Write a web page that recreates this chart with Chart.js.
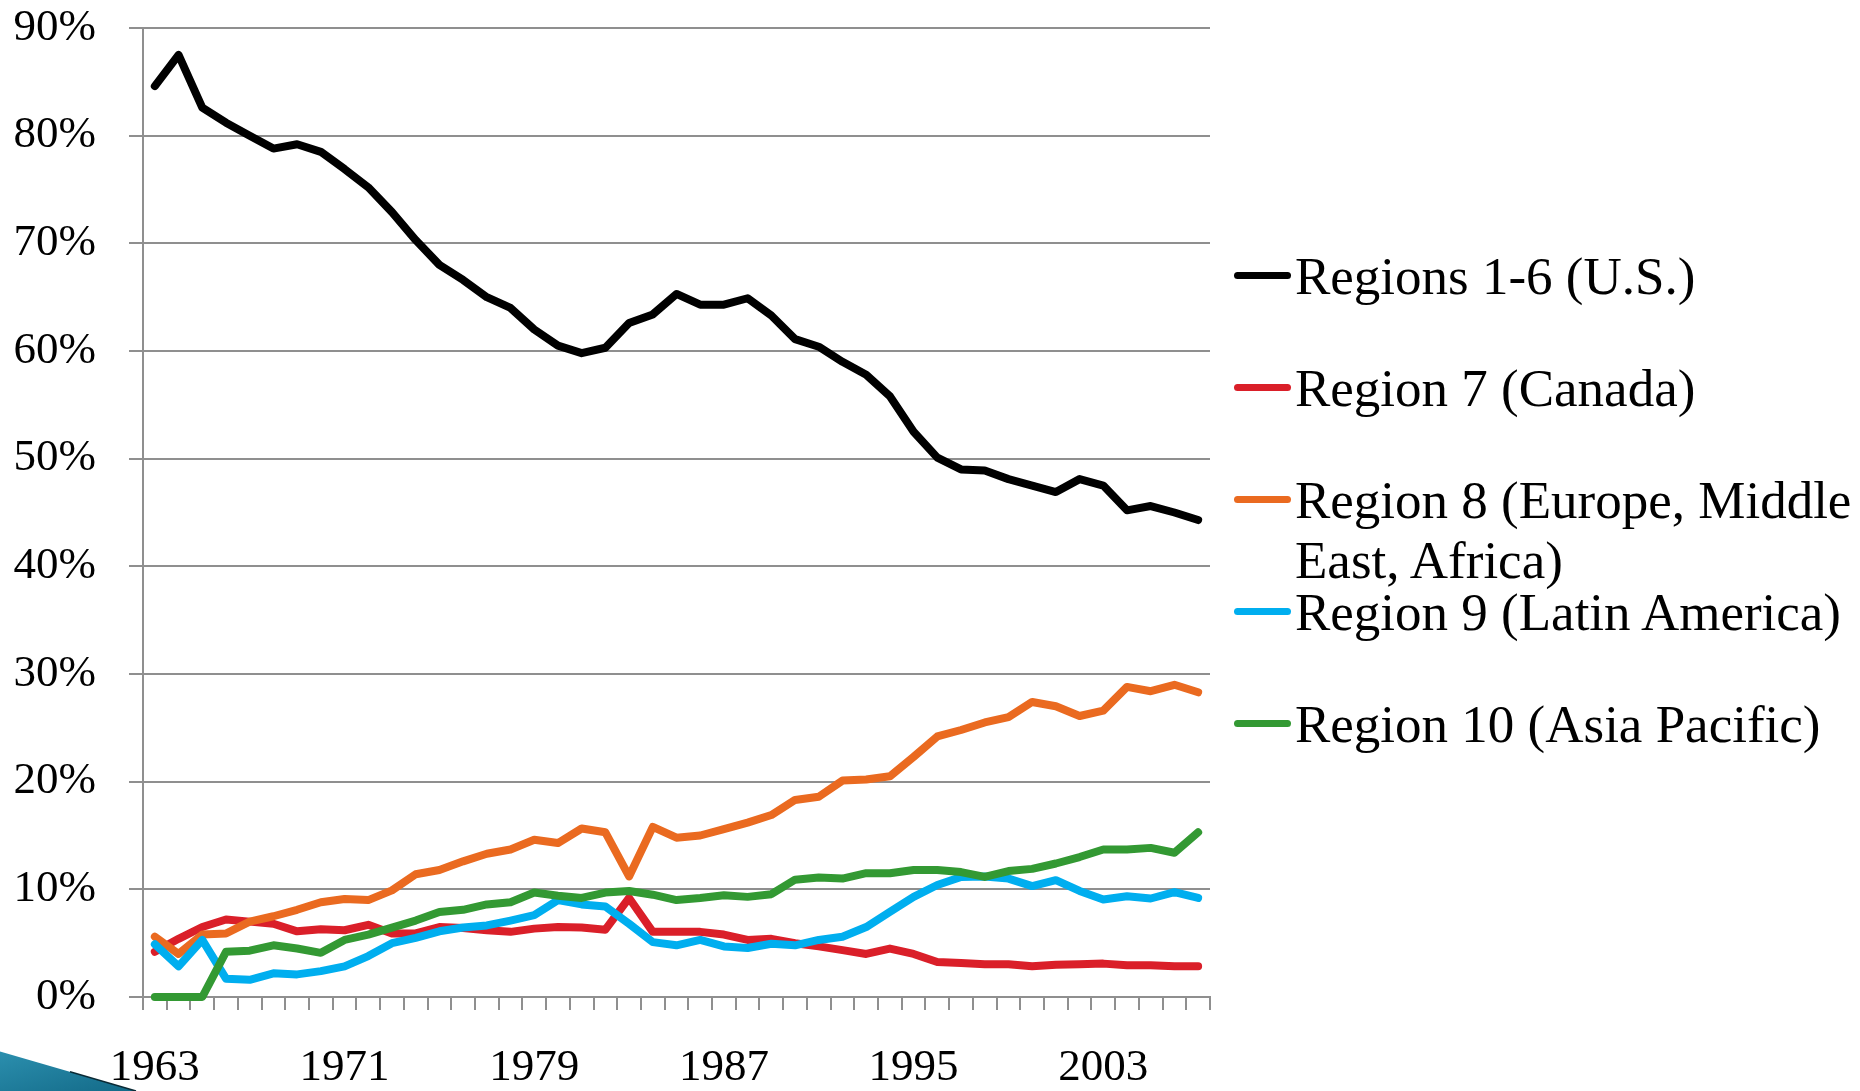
<!DOCTYPE html>
<html>
<head>
<meta charset="utf-8">
<script src="https://cdn.jsdelivr.net/npm/chart.js@4.4.0/dist/chart.umd.min.js"></script>
<style>
html,body{margin:0;padding:0;background:#fff;width:1860px;height:1091px;overflow:hidden;}
#wrap{position:relative;width:1860px;height:1091px;overflow:hidden;}
#chart{position:absolute;left:0;top:-32px;}
#legend{position:absolute;left:0;top:0;width:1860px;height:1091px;pointer-events:none;font-family:"Liberation Serif","Times New Roman",serif;font-size:53px;line-height:60px;color:#000;}
.item{position:absolute;left:1234px;width:626px;height:60px;}
.sw{position:absolute;left:0;top:26px;width:57px;height:7px;border-radius:3.5px;}
.tx{position:absolute;left:61px;top:0;width:570px;white-space:normal;}
#swoosh{position:absolute;left:0;top:1040px;}
</style>
</head>
<body>
<div id="wrap">
<canvas id="chart" width="1860" height="1123"></canvas>
<div id="legend"></div>
<svg id="swoosh" width="200" height="51" viewBox="0 0 200 51">
  <defs>
    <linearGradient id="sg" x1="0" y1="0" x2="1" y2="1">
      <stop offset="0" stop-color="#2b8fae"/>
      <stop offset="1" stop-color="#136a88"/>
    </linearGradient>
  </defs>
  <polygon points="0,11.5 136,51 0,51" fill="url(#sg)"/>
  <line x1="70" y1="31.8" x2="136" y2="51" stroke="#0a2a35" stroke-width="1.5"/>
</svg>
</div>
<script>
// ---- Data ----
const years = ['1963','1964','1965','1966','1967','1968','1969','1970','1971','1972',
  '1973','1974','1975','1976','1977','1978','1979','1980','1981','1982',
  '1983','1984','1985','1986','1987','1988','1989','1990','1991','1992',
  '1993','1994','1995','1996','1997','1998','1999','2000','2001','2002',
  '2003','2004','2005','2006','2007'];

const xTickLabels = ['1963','1971','1979','1987','1995','2003'];

const regionsUS = [84.6,87.5,82.6,81.2,80.0,78.8,79.2,78.5,76.9,75.2,
  72.9,70.3,68.0,66.6,65.0,64.0,62.0,60.5,59.8,60.3,
  62.6,63.4,65.3,64.3,64.3,64.9,63.3,61.1,60.4,59.0,
  57.8,55.8,52.5,50.1,49.0,48.9,48.1,47.5,46.9,48.1,
  47.5,45.2,45.6,45.0,44.3];

const regionCanada = [4.2,5.4,6.5,7.2,7.0,6.8,6.1,6.3,6.2,6.7,
  5.9,5.9,6.5,6.4,6.2,6.05,6.35,6.5,6.45,6.25,
  9.2,6.05,6.05,6.05,5.8,5.3,5.4,5.0,4.7,4.35,
  4.0,4.5,4.0,3.25,3.15,3.05,3.05,2.85,3.0,3.05,
  3.1,2.95,2.95,2.85,2.85];

const regionEMEA = [5.6,4.0,5.8,5.9,7.0,7.5,8.1,8.8,9.1,9.0,
  9.9,11.4,11.8,12.6,13.3,13.7,14.6,14.3,15.65,15.3,
  11.2,15.8,14.8,15.0,15.6,16.2,16.9,18.3,18.6,20.1,
  20.2,20.5,22.3,24.2,24.8,25.5,26.0,27.4,27.0,26.1,
  26.6,28.8,28.4,29.0,28.3];

const regionLatAm = [4.9,2.85,5.3,1.7,1.6,2.2,2.1,2.4,2.85,3.8,
  5.0,5.5,6.1,6.45,6.65,7.1,7.6,9.0,8.6,8.4,
  6.8,5.1,4.8,5.3,4.7,4.55,4.95,4.8,5.3,5.6,
  6.5,7.9,9.3,10.4,11.15,11.2,11.0,10.3,10.85,9.85,
  9.05,9.35,9.15,9.75,9.2];

const regionAsiaPac = [0,0,0,4.2,4.3,4.8,4.5,4.1,5.3,5.8,
  6.45,7.1,7.9,8.1,8.6,8.8,9.7,9.4,9.2,9.7,
  9.85,9.5,9.0,9.2,9.45,9.3,9.55,10.9,11.1,11.0,
  11.5,11.5,11.8,11.8,11.6,11.15,11.7,11.9,12.4,13.0,
  13.7,13.7,13.85,13.4,15.3];

const seriesNames = ['Regions 1-6 (U.S.)','Region 7 (Canada)','Region 8 (Europe, Middle East, Africa)','Region 9 (Latin America)','Region 10 (Asia Pacific)'];
const seriesValues = [regionsUS, regionCanada, regionEMEA, regionLatAm, regionAsiaPac];
const seriesColors = ['#000000','#DA1F29','#EA6A20','#00AEEF','#339933'];

// ---- Chart ----
const FONT = '"Liberation Serif","Times New Roman",serif';
const GRID = '#8f8f8f';

const datasets = seriesNames.map((name, i) => ({
  label: name,
  data: seriesValues[i],
  borderColor: seriesColors[i],
  backgroundColor: seriesColors[i],
  borderWidth: 8,
  pointRadius: 0,
  pointHoverRadius: 0,
  tension: 0,
  fill: false,
  clip: false,
  borderCapStyle: 'round',
  borderJoinStyle: 'round',
  order: seriesNames.length - 1 - i
}));

new Chart(document.getElementById('chart'), {
  type: 'line',
  data: { labels: years, datasets },
  options: {
    responsive: false,
    animation: false,
    devicePixelRatio: 1,
    layout: { padding: { top: 0, right: 650, left: 0, bottom: 0 } },
    plugins: { legend: { display: false }, tooltip: { enabled: false } },
    scales: {
      x: {
        type: 'category',
        offset: true,
        grid: { display: true, offset: true, drawOnChartArea: false, drawTicks: true, tickLength: 13, color: GRID, lineWidth: 2 },
        border: { display: true, color: GRID, width: 2 },
        ticks: {
          autoSkip: false, maxRotation: 0, minRotation: 0, padding: 31,
          color: '#000', font: { family: FONT, size: 45 },
          callback: function(value) {
            const lab = this.getLabelForValue(value);
            return xTickLabels.includes(lab) ? lab : '';
          }
        },
        afterFit: (scale) => { scale.height = 94; }
      },
      y: {
        min: 0, max: 90,
        grid: { color: GRID, lineWidth: 2, drawTicks: true, tickLength: 14 },
        border: { display: true, color: GRID, width: 2 },
        ticks: {
          stepSize: 10, padding: 33, color: '#000', font: { family: FONT, size: 45 },
          callback: (v) => v + '%'
        },
        afterFit: (scale) => { scale.width = 143; }
      }
    }
  }
});

// ---- Legend (HTML text) ----
const legend = document.getElementById('legend');
seriesNames.forEach((name, i) => {
  const item = document.createElement('div');
  item.className = 'item';
  item.style.top = (246 + i * 112) + 'px';
  const sw = document.createElement('div');
  sw.className = 'sw';
  sw.style.background = seriesColors[i];
  const tx = document.createElement('div');
  tx.className = 'tx';
  tx.textContent = name;
  item.appendChild(sw);
  item.appendChild(tx);
  legend.appendChild(item);
});
</script>
</body>
</html>
